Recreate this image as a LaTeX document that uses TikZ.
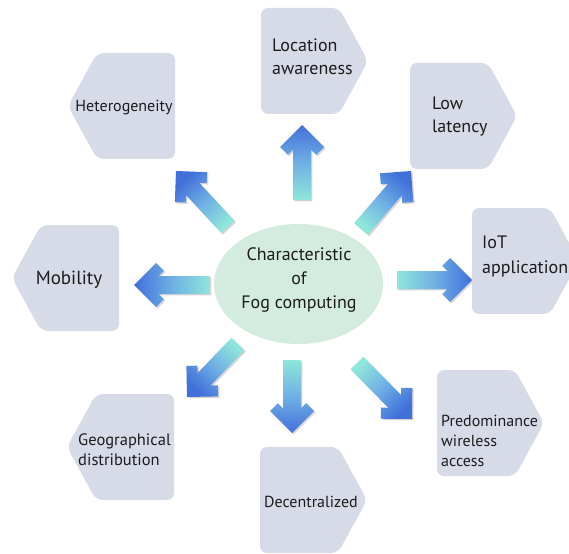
\documentclass[tikz,border=0pt]{standalone}
\usepackage{fontspec}
\setmainfont{PT Sans}
\usetikzlibrary{calc,shapes.geometric}

\definecolor{tagfill}{HTML}{D7DBE8}
\definecolor{corefill}{HTML}{D4ECDF}
\definecolor{arrowtail}{HTML}{8FE6DA}
\definecolor{arrowmid}{HTML}{6FB0E4}
\definecolor{arrowhead}{HTML}{4270DA}
\definecolor{arrowshadow}{HTML}{D9D2D6}
\definecolor{inktext}{HTML}{1C1C1C}

\tikzset{
  tagbox/.style={fill=tagfill, rounded corners=7pt},
  tagtext/.style={text=inktext, align=left, inner sep=0pt},
  coretext/.style={text=inktext, align=center, inner sep=0pt},
}

% pentagon tag pointing right, top-left corner at (#1,#2)
\newcommand\tagright[2]{%
  \path[tagbox] (#1,#2) -- ++(78,0) -- ++(29,53) -- ++(-29,53) -- ++(-78,0) -- cycle;}
% pentagon tag pointing left, top-left of its bounding box at (#1,#2)
\newcommand\tagleft[2]{%
  \path[tagbox] (#1,#2) ++(29,0) -- ++(78,0) -- ++(0,106) -- ++(-78,0) -- ++(-29,-53) -- cycle;}

% outline of a block arrow with a chevron head, from coordinate #1 (tail) to #2 (tip)
\newcommand\fogpath[2]{%
  ($(#1)!9pt!90:(#2)$)
  -- ($(#2)!24.6pt!(#1)!9pt!-90:(#1)$)
  -- ($(#2)!29.8pt!(#1)!14.2pt!-90:(#1)$)
  -- ($(#2)!22pt!(#1)!22pt!-90:(#1)$)
  -- (#2)
  -- ($(#2)!22pt!(#1)!22pt!90:(#1)$)
  -- ($(#2)!29.8pt!(#1)!14.2pt!90:(#1)$)
  -- ($(#2)!24.6pt!(#1)!9pt!90:(#1)$)
  -- ($(#1)!9pt!-90:(#2)$) -- cycle}

% shaded block arrow with a soft shadow
\newcommand\fogarrow[2]{%
  \path let \p1=(#1), \p2=(#2) in
    \pgfextra{\pgfmathparse{atan2((\y2)-(\y1),(\x2)-(\x1))-90}\xdef\fogsa{\pgfmathresult}};
  \begin{scope}[transform canvas={shift={(1.4pt,-1.4pt)}}]
    \fill[arrowshadow] \fogpath{#1}{#2};
  \end{scope}
  \shade[bottom color=arrowtail, top color=arrowhead, middle color=arrowmid,
         shading angle=\fogsa] \fogpath{#1}{#2};
}

\begin{document}
\begin{tikzpicture}[x=1pt, y=-1pt]
  \fill[white] (0,0) rectangle (569,553);
  \useasboundingbox (0,0) rectangle (569,553);

  % characteristic tags
  \tagright{261}{8}
  \tagleft{68}{53}
  \tagright{410}{63}
  \tagright{472}{208}
  \tagleft{12}{225}
  \tagleft{67}{394}
  \tagright{260}{447}
  \tagright{437}{370}

  \node[tagtext, anchor=west, font=\fontsize{18}{23}\selectfont] (loc) at (272,57) {Location\\awareness};
  \node[tagtext, font=\fontsize{16}{20}\selectfont] (het) at (124,108) {Heterogeneity};
  \node[tagtext, anchor=west, font=\fontsize{18}{23}\selectfont] (low) at (432,117) {Low\\latency};
  \node[tagtext, anchor=west, font=\fontsize{18}{25}\selectfont] (iot) at (482,256) {IoT\\application};
  \node[tagtext, font=\fontsize{19}{23}\selectfont] (mob) at (69,280) {Mobility};
  \node[tagtext, anchor=west, font=\fontsize{16.5}{20}\selectfont] (geo) at (78,450) {Geographical\\distribution};
  \node[tagtext, anchor=west, font=\fontsize{16}{20}\selectfont] (dec) at (264,502) {Decentralized};
  \node[tagtext, anchor=west, font=\fontsize{16}{20}\selectfont] (pre) at (441,441) {Predominance\\wireless\\access};

  % arrow tails and tips
  \coordinate (tU) at (302,200);  \coordinate (hU) at (302,125);
  \coordinate (tUL) at (228,227); \coordinate (hUL) at (176,171);
  \coordinate (tUR) at (361,229); \coordinate (hUR) at (411,171);
  \coordinate (tR) at (397,280);  \coordinate (hR) at (472,280);
  \coordinate (tL) at (210,285);  \coordinate (hL) at (134,285);
  \coordinate (tDL) at (238,344); \coordinate (hDL) at (187,397);
  \coordinate (tD) at (292,360);  \coordinate (hD) at (292,433);
  \coordinate (tDR) at (357,363); \coordinate (hDR) at (412,419);

  \fogarrow{tU}{hU}
  \fogarrow{tUL}{hUL}
  \fogarrow{tUR}{hUR}
  \fogarrow{tR}{hR}
  \fogarrow{tL}{hL}
  \fogarrow{tDL}{hDL}
  \fogarrow{tD}{hD}
  \fogarrow{tDR}{hDR}

  % central topic
  \node[ellipse, fill=corefill, minimum width=169pt, minimum height=120pt] (core) at (298.5,284) {};
  \node[coretext, font=\fontsize{18}{24}\selectfont] (coretitle) at (299,280) {Characteristic\\of\\Fog computing};
\end{tikzpicture}
\end{document}
